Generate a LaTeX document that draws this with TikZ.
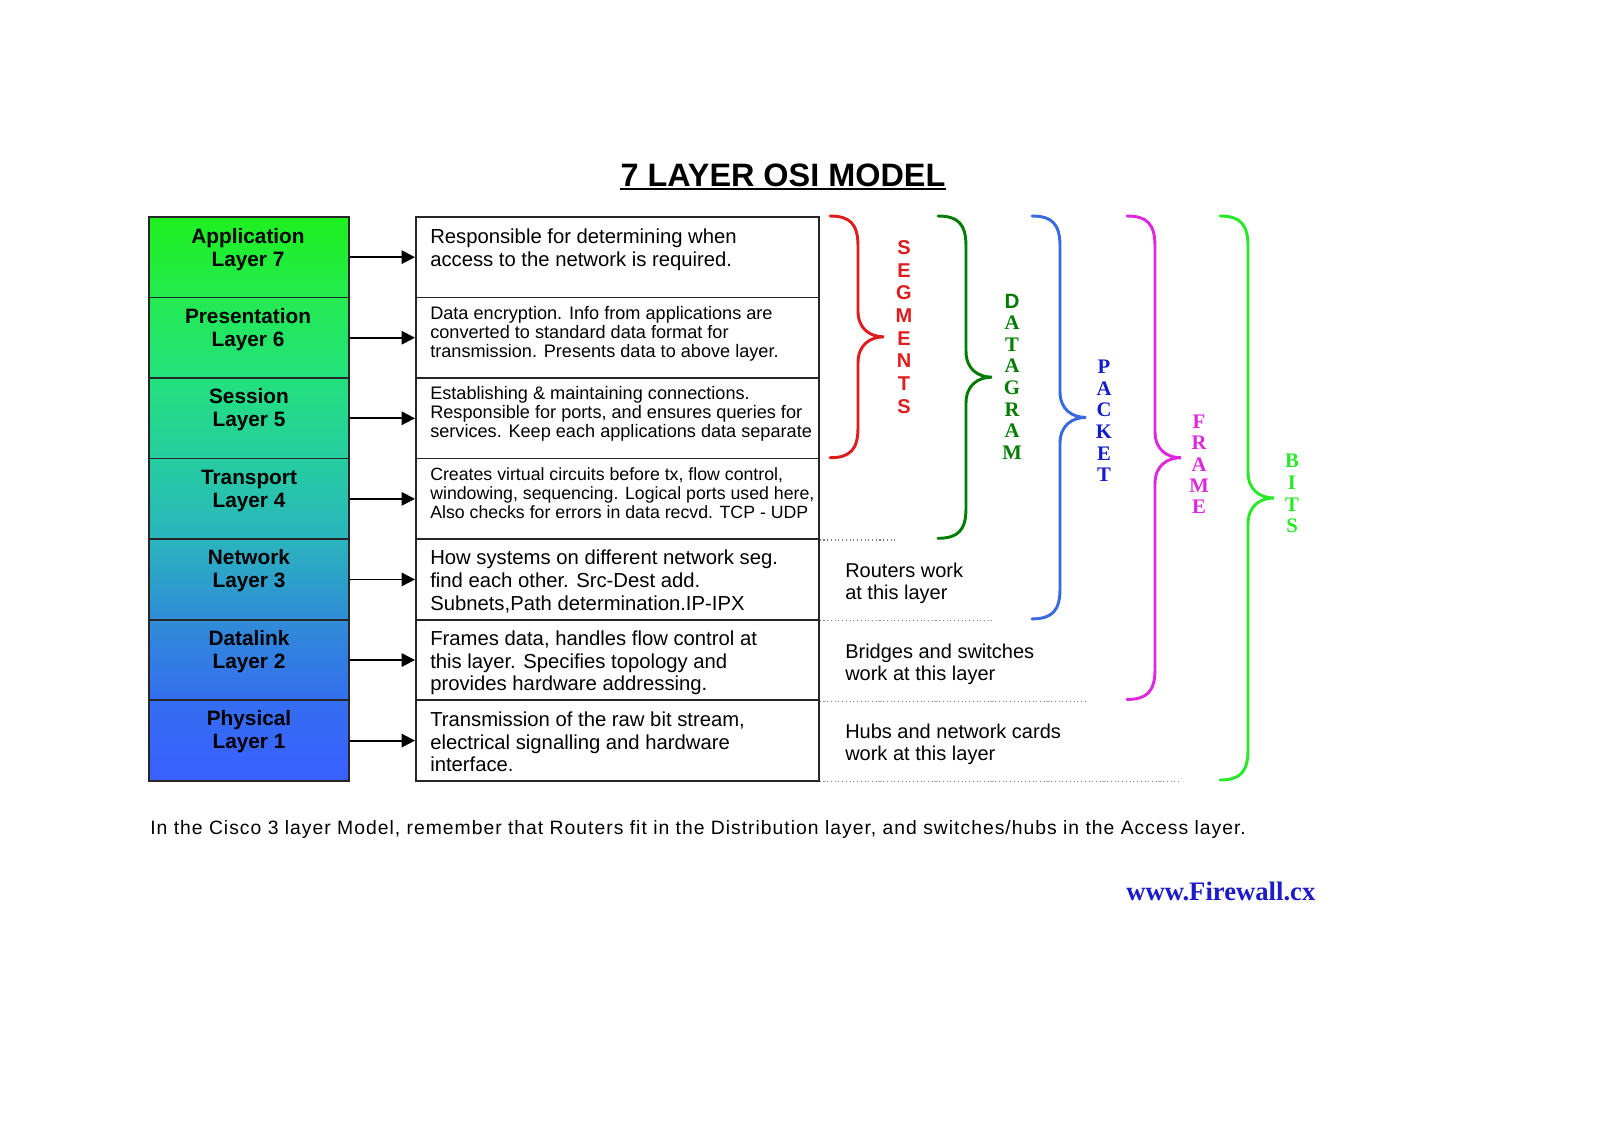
\documentclass[tikz,border=0pt]{standalone}
\usepackage{fontspec}
\setmainfont{Liberation Sans}
\newfontfamily\serifx{Liberation Serif}
\newfontfamily\footfont[LetterSpace=5.2]{Liberation Sans}
\usetikzlibrary{arrows.meta,calc}
\definecolor{c0}{RGB}{30,240,30}
\definecolor{c1}{RGB}{35,235,80}
\definecolor{c2}{RGB}{35,225,125}
\definecolor{c3}{RGB}{38,205,160}
\definecolor{c4}{RGB}{42,180,190}
\definecolor{c5}{RGB}{48,140,215}
\definecolor{c6}{RGB}{52,110,240}
\definecolor{c7}{RGB}{58,95,255}
\definecolor{segred}{RGB}{222,30,30}
\definecolor{dgreen}{RGB}{0,125,0}
\definecolor{pblue}{RGB}{55,105,225}
\definecolor{pdblue}{RGB}{20,30,200}
\definecolor{fmag}{RGB}{222,40,222}
\definecolor{bgreen}{RGB}{40,232,40}
\definecolor{urlblue}{RGB}{28,28,200}
\newcommand\osibrace[4]{%
  \pgfmathsetmacro\bxa{#2+28}%
  \pgfmathsetmacro\bxb{#2+54}%
  \pgfmathsetmacro\bm{(#3+#4)/2}%
  \draw[#1,bracestyle] (#2,#3) .. controls (#2+20,#3) and (\bxa,#3+8) .. (\bxa,#3+30)
    -- (\bxa,\bm-26) .. controls (\bxa,\bm-8) and (\bxb-14,\bm) .. (\bxb,\bm)
    .. controls (\bxb-14,\bm) and (\bxa,\bm+8) .. (\bxa,\bm+26)
    -- (\bxa,#4-30) .. controls (\bxa,#4-8) and (#2+20,#4) .. (#2,#4);
}
\begin{document}
\begin{tikzpicture}[x=0.75pt,y=-0.75pt,
  layerbox/.style={draw=black!85, line width=1.3pt, minimum width=150pt, minimum height=60.43pt, inner sep=0, anchor=north west},
  descbox/.style={draw=black!85, line width=1.3pt, fill=white, minimum width=302.25pt, minimum height=60.43pt, inner sep=0, anchor=north west},
  lbl/.style={align=center, inner sep=0, font=\bfseries\fontsize{15.6}{17.2}\selectfont},
  dtxt/.style={align=left, anchor=west, inner sep=0, font=\fontsize{15.2}{17}\selectfont},
  stxt/.style={align=left, anchor=west, inner sep=0, font=\fontsize{13.6}{14.25}\selectfont},
  rtxt/.style={align=left, anchor=west, inner sep=0, font=\fontsize{15}{16.6}\selectfont},
  arr/.style={line width=1.4pt, -{Triangle[length=10pt,width=10pt]}},
  dotline/.style={gray, line width=0.8pt, dotted},
  bracestyle/.style={line width=2.2pt, line cap=round},
  stack/.style={align=center, inner sep=0}
]
\useasboundingbox[fill=white] (0,0) rectangle (1600,1133);

% title
\node[anchor=base, inner sep=0, font=\bfseries\fontsize{24.3}{28}\selectfont] (title) at (783,186) {7 LAYER OSI MODEL};
\draw[line width=2pt] ($(title.base west)+(0,3)$) -- ($(title.base east)+(0,3)$);

% layer boxes
\node[layerbox, top color=c0, bottom color=c1] (L7) at (148,216) {};
\node[layerbox, top color=c1, bottom color=c2] (L6) at (148,296.57) {};
\node[layerbox, top color=c2, bottom color=c3] (L5) at (148,377.14) {};
\node[layerbox, top color=c3, bottom color=c4] (L4) at (148,457.71) {};
\node[layerbox, top color=c4, bottom color=c5] (L3) at (148,538.29) {};
\node[layerbox, top color=c5, bottom color=c6] (L2) at (148,618.86) {};
\node[layerbox, top color=c6, bottom color=c7] (L1) at (148,699.43) {};

\node[lbl] (L7t) at (248,250) {Application\\Layer 7};
\node[lbl] (L6t) at (248,330) {Presentation\\Layer 6};
\node[lbl] (L5t) at (249,410) {Session\\Layer 5};
\node[lbl] (L4t) at (249,491) {Transport\\Layer 4};
\node[lbl] (L3t) at (249,571) {Network\\Layer 3};
\node[lbl] (L2t) at (249,651.5) {Datalink\\Layer 2};
\node[lbl] (L1t) at (249,731.5) {Physical\\Layer 1};

% description boxes
\node[descbox] (D7) at (415,216) {};
\node[descbox] (D6) at (415,296.57) {};
\node[descbox] (D5) at (415,377.14) {};
\node[descbox] (D4) at (415,457.71) {};
\node[descbox] (D3) at (415,538.29) {};
\node[descbox] (D2) at (415,618.86) {};
\node[descbox] (D1) at (415,699.43) {};

\node[dtxt] (D7t) at (430,250) {Responsible for determining when\\access to the network is required.};
\node[stxt] (D6t) at (430,334) {Data encryption. Info from applications are\\converted to standard data format for\\transmission. Presents data to above layer.};
\node[stxt] (D5t) at (430,413.5) {Establishing \& maintaining connections.\\Responsible for ports, and ensures queries for\\services. Keep each applications data separate};
\node[stxt, font=\fontsize{13.3}{14.25}\selectfont] (D4t) at (430,493) {Creates virtual circuits before tx, flow control,\\windowing, sequencing. Logical ports used here,\\Also checks for errors in data recvd. TCP - UDP};
\node[dtxt] (D3t) at (430,581.5) {How systems on different network seg.\\find each other. Src-Dest add.\\Subnets,Path determination.IP-IPX};
\node[dtxt] (D2t) at (430,663) {Frames data, handles flow control at\\this layer. Specifies topology and\\provides hardware addressing.};
\node[dtxt] (D1t) at (430,742) {Transmission of the raw bit stream,\\electrical signalling and hardware\\interface.};

% arrows
\foreach \n in {7,6,5,4,3,2,1}{
  \draw[arr] (L\n.east) -- (D\n.west);
}

% dotted separators
\draw[dotline] (D4.south east) -- ++(77,0);
\draw[dotline] (D3.south east) -- ++(172,0);
\draw[dotline] (D2.south east) -- ++(267,0);
\draw[dotline] (D1.south east) -- ++(360,0);

% right texts
\node[rtxt] (R3) at (845,583) {Routers work\\at this layer};
\node[rtxt] (R2) at (845,664) {Bridges and switches\\work at this layer};
\node[rtxt] (R1) at (845,744.5) {Hubs and network cards\\work at this layer};

% braces
\osibrace{segred}{830}{216}{457.71}
\osibrace{dgreen}{938}{216}{538.29}
\osibrace{pblue}{1032}{216}{618.86}
\osibrace{fmag}{1127}{216}{699.43}
\osibrace{bgreen}{1220}{216}{780}

% stacked labels
\node[stack, text=segred, font=\bfseries\fontsize{15}{17}\selectfont] (seg) at (904,327) {S\\E\\G\\M\\E\\N\\T\\S};
\node[stack, text=dgreen, font=\serifx\bfseries\fontsize{15.5}{16.2}\selectfont] (dat) at (1012,376.5) {{\sffamily\fontspec{Liberation Sans}D}\\A\\T\\A\\G\\R\\A\\M};
\node[stack, text=pdblue, font=\serifx\bfseries\fontsize{15.5}{16.2}\selectfont] (pac) at (1104,421) {P\\A\\C\\K\\E\\T};
\node[stack, text=fmag, font=\serifx\bfseries\fontsize{15.5}{16}\selectfont] (fra) at (1199,464.5) {F\\R\\A\\M\\E};
\node[stack, text=bgreen, font=\serifx\bfseries\fontsize{15.5}{16.3}\selectfont] (bit) at (1292,493.5) {B\\I\\T\\S};

% footer
\node[anchor=west, inner sep=0, font=\footfont\fontsize{14.5}{17}\selectfont] (foot) at (150,829) {In the Cisco 3 layer Model, remember that Routers fit in the Distribution layer, and switches/hubs in the Access layer.};
\node[anchor=base west, inner sep=0, text=urlblue, font=\serifx\bfseries\fontsize{20}{24}\selectfont] (url) at (1126,900) {www.Firewall.cx};
\end{tikzpicture}
\end{document}
